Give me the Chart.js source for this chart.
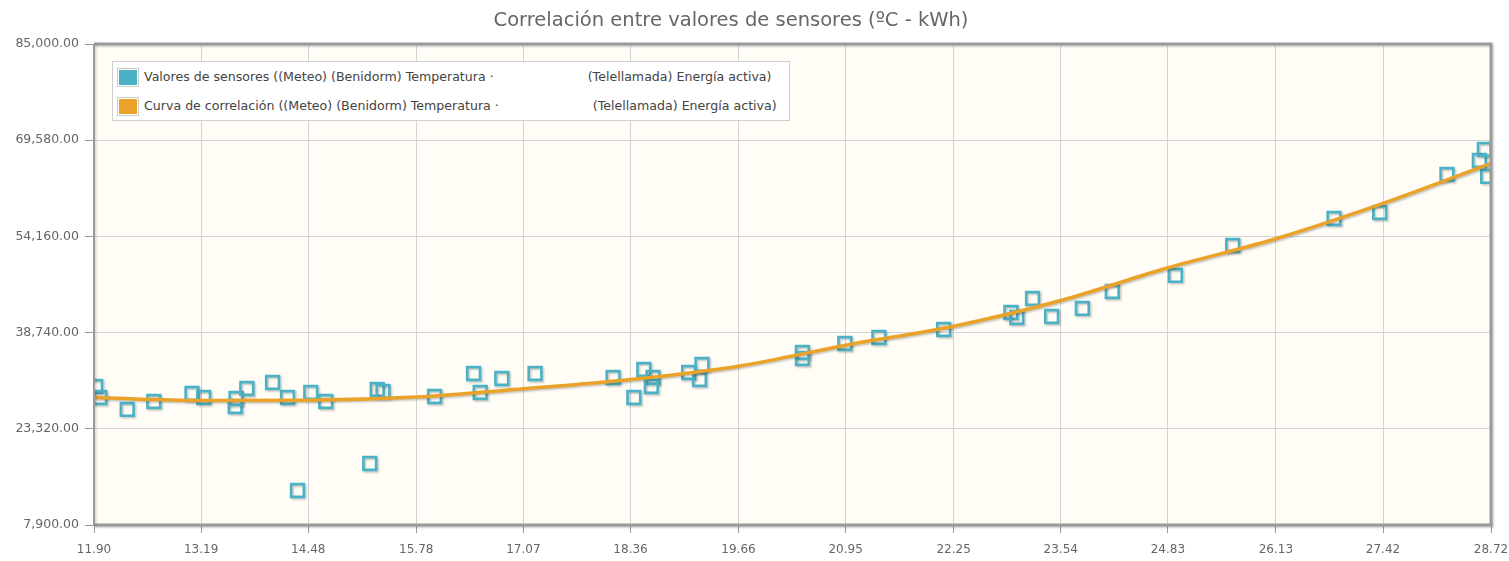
<!DOCTYPE html>
<html>
<head>
<meta charset="utf-8">
<script src="https://cdn.jsdelivr.net/npm/chart.js@4"></script>
<style>
  body { margin: 0; background: #fff; }
  #wrap { position: relative; width: 1509px; height: 561px; }
  #title {
    position: absolute; left: 0; width: 1462px; top: 8px; text-align: center;
    font: 19.5px "DejaVu Sans", sans-serif; color: #666;
  }
  #legend {
    position: absolute; left: 112px; top: 61px; width: 676px; height: 58px;
    border: 1px solid #cfcfcf; background: #fff;
    font: 12.6px "DejaVu Sans", sans-serif; color: #444;
  }
  .row { position: absolute; left: 4px; height: 20px; line-height: 20px; white-space: nowrap; }
  .sw { display: inline-block; vertical-align: middle; width: 18px; height: 15px; border: 1px solid #ccc; padding: 1px; margin-right: 5px; }
  .sw span { display: block; width: 100%; height: 100%; }
  .gap { display: inline-block; width: 94px; }
</style>
</head>
<body>
<div id="wrap">
  <canvas id="chart"></canvas>
  <div id="title">Correlación entre valores de sensores (ºC - kWh)</div>
  <div id="legend">
    <div class="row" style="top:5px"><span class="sw"><span style="background:#4bb2c5"></span></span>Valores de sensores ((Meteo) (Benidorm) Temperatura ·<span class="gap"></span>(Telellamada) Energía activa)</div>
    <div class="row" style="top:34px"><span class="sw"><span style="background:#eaa228"></span></span>Curva de correlación ((Meteo) (Benidorm) Temperatura ·<span class="gap"></span>(Telellamada) Energía activa)</div>
  </div>
</div>
<script>
// temperatura (ºC) de cada lectura
const tempValues = [11.92, 11.97, 12.30, 12.62, 13.08, 13.22, 13.60, 13.61, 13.74, 14.05,
  14.23, 14.35, 14.51, 14.69, 15.22, 15.31, 15.38, 16.00, 16.47, 16.55,
  16.81, 17.21, 18.15, 18.40, 18.52, 18.63, 18.61, 19.06, 19.19, 19.22,
  20.43, 20.43, 20.94, 21.35, 22.13, 22.94, 23.01, 23.20, 23.43, 23.80,
  24.16, 24.92, 25.61, 26.83, 27.38, 28.19, 28.58, 28.64, 28.68];
// energía activa (kWh) de cada lectura
const kwhValues = [30100, 28340, 26420, 27700, 28980, 28340, 26900, 28180, 29780, 30740,
  28340, 13430, 29140, 27700, 17760, 29620, 29300, 28500, 32190, 29140,
  31380, 32190, 31540, 28340, 32830, 31540, 30100, 32350, 31220, 33630,
  35550, 34590, 36990, 37960, 39240, 41960, 41160, 44210, 41320, 42610,
  45330, 47900, 52700, 57030, 57990, 64090, 66330, 68090, 63770];

const curveTemp = [11.90, 13.19, 14.48, 15.78, 17.07, 18.36, 19.66, 20.95, 22.25, 23.54, 24.83, 26.13, 27.42, 28.72];
const curveKwh = [28340, 27860, 27900, 28420, 29730, 31220, 33360, 36720, 39770, 43890, 49130, 53780, 59440, 65850];

const xTickLabels = ['11.90', '13.19', '14.48', '15.78', '17.07', '18.36', '19.66', '20.95', '22.25', '23.54', '24.83', '26.13', '27.42', '28.72'];
const yTickLabels = ['7,900.00', '23,320.00', '38,740.00', '54,160.00', '69,580.00', '85,000.00'];

const toNum = s => parseFloat(s.replace(/,/g, ''));

const plotBg = {
  id: 'plotBg',
  beforeDraw(chart) {
    const { ctx, chartArea: a } = chart;
    ctx.save();
    ctx.fillStyle = '#fffdf6';
    ctx.fillRect(a.left, a.top, a.right - a.left, a.bottom - a.top);
    ctx.restore();
  },
  beforeDatasetDraw(chart) {
    const ctx = chart.ctx;
    ctx.save();
    ctx.shadowColor = 'rgba(0,0,0,0.22)';
    ctx.shadowOffsetX = 1.5;
    ctx.shadowOffsetY = 1.5;
    ctx.shadowBlur = 2;
  },
  afterDatasetDraw(chart) {
    chart.ctx.restore();
  },
  afterDatasetsDraw(chart) {
    const { ctx, chartArea: a } = chart;
    ctx.save();
    ctx.strokeStyle = '#9a9a9a';
    ctx.shadowColor = 'rgba(0,0,0,0.18)';
    ctx.shadowOffsetX = 1.5;
    ctx.shadowOffsetY = 1.5;
    ctx.shadowBlur = 2;
    ctx.lineWidth = 3;
    ctx.beginPath();
    ctx.moveTo(a.left, a.top);
    ctx.lineTo(a.right, a.top);
    ctx.lineTo(a.right, a.bottom);
    ctx.lineTo(a.left, a.bottom);
    ctx.stroke();
    ctx.lineWidth = 2;
    ctx.beginPath();
    ctx.moveTo(a.left, a.top);
    ctx.lineTo(a.left, a.bottom);
    ctx.stroke();
    ctx.restore();
  }
};

new Chart(document.getElementById('chart'), {
  type: 'scatter',
  data: {
    datasets: [{
      label: 'Curva de correlación',
      type: 'line',
      data: curveTemp.map((t, i) => ({ x: t, y: curveKwh[i] })),
      borderColor: '#eaa228',
      borderWidth: 3.5,
      pointRadius: 0,
      cubicInterpolationMode: 'monotone',
      fill: false,
      clip: 0,
      order: 0
    }, {
      label: 'Valores de sensores',
      data: tempValues.map((t, i) => ({ x: t, y: kwhValues[i] })),
      pointStyle: 'rect',
      pointRadius: 9,
      borderColor: '#4bb2c5',
      borderWidth: 2.6,
      backgroundColor: 'rgba(0,0,0,0)',
      clip: 0,
      order: 1
    }]
  },
  options: {
    responsive: true,
    maintainAspectRatio: false,
    animation: false,
    layout: { padding: { top: 44, right: 18, left: 0, bottom: 0 } },
    plugins: { legend: { display: false }, title: { display: false }, tooltip: { enabled: false } },
    scales: {
      x: {
        type: 'linear',
        min: 11.90,
        max: 28.72,
        afterBuildTicks: s => { s.ticks = xTickLabels.map(l => ({ value: toNum(l) })); },
        afterFit: s => { s.height = 36; s.paddingRight = 0; s.paddingLeft = 0; },
        ticks: {
          callback: (v, i) => xTickLabels[i],
          color: '#666',
          padding: 10,
          maxRotation: 0,
          font: { family: 'DejaVu Sans', size: 12 }
        },
        grid: { color: '#d4d4d4', tickColor: '#999', tickLength: 8, lineWidth: 1 },
        border: { display: false }
      },
      y: {
        min: 7900,
        max: 85000,
        afterBuildTicks: s => { s.ticks = yTickLabels.map(l => ({ value: toNum(l) })); },
        afterFit: s => { s.width = 94; },
        ticks: {
          callback: (v, i) => yTickLabels[i],
          color: '#666',
          padding: 6,
          font: { family: 'DejaVu Sans', size: 12.5 }
        },
        grid: { color: '#d4d4d4', tickColor: '#999', tickLength: 9, lineWidth: 1 },
        border: { display: false }
      }
    }
  },
  plugins: [plotBg]
});
</script>
</body>
</html>
